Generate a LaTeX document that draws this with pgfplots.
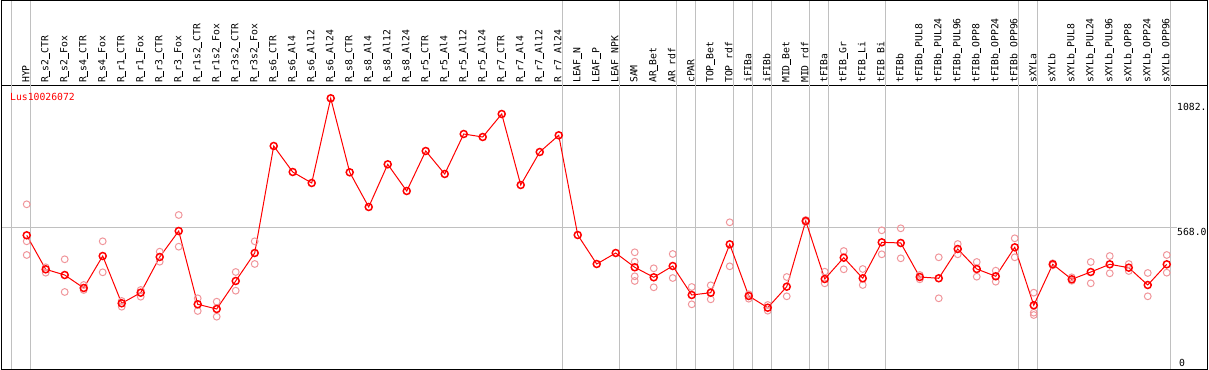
\documentclass[border=0pt]{standalone}
\usepackage{pgfplots}
\pgfplotsset{compat=1.18}
\usepackage{pgfplotstable}
\usepackage{fontspec}
\setmainfont{DejaVu Sans Mono}
\definecolor{rep}{RGB}{240,150,155}
\definecolor{gridg}{RGB}{192,192,192}
\newcommand{\us}{\makebox[0.602em][l]{\rule[-1.6bp]{0.602em}{1.3bp}}}

\pgfplotstableread{
x y
1 539.0
2 404.2
3 381.6
4 330.1
5 456.9
6 269.5
7 311.5
8 453.0
9 556.0
10 265.5
11 246.9
12 357.9
13 468.8
14 892.9
15 789.8
16 746.2
17 1082.0
18 788.6
19 651.1
20 820.3
21 714.5
22 873.0
23 781.9
24 940.4
25 928.5
26 1019.7
27 738.3
28 869.1
29 935.3
30 540.2
31 425.2
32 468.8
33 412.2
34 372.5
35 417.3
36 302.4
37 311.5
38 503.3
39 298.4
40 252.0
41 335.3
42 595.6
43 365.8
44 450.2
45 368.6
46 511.2
47 508.5
48 373.7
49 368.6
50 484.7
51 405.4
52 376.5
53 491.4
54 261.6
55 424.0
56 364.6
57 393.5
58 424.0
59 410.6
60 342.0
61 424.0
}\meandata

\pgfplotstableread{
x y
1 661.8
1 515.2
1 460.9
2 412.2
2 390.8
3 443.9
3 314.3
4 342.0
4 322.2
5 515.2
5 392.3
6 278.6
6 256.0
7 322.2
7 295.6
8 474.0
8 434.3
9 619.4
9 493.8
10 289.3
10 239.0
11 275.8
11 216.4
12 393.5
12 319.4
13 515.2
13 425.3
33 471.6
33 434.3
33 376.5
33 357.9
34 408.2
34 332.9
35 464.9
35 369.7
36 334.1
36 265.5
37 340.8
37 285.3
38 590.5
38 416.1
39 305.2
39 287.7
40 262.7
40 240.2
41 373.7
41 297.2
42 599.6
42 591.7
43 394.7
43 348.7
44 476.7
44 404.2
45 405.4
45 342.0
46 558.8
46 463.7
47 566.7
47 447.8
48 381.6
48 364.6
49 451.8
49 289.3
50 504.5
50 463.7
51 433.2
51 374.9
52 398.7
52 355.1
53 527.1
53 451.8
54 311.5
54 232.2
54 223.1
55 428.0
55 420.0
56 372.5
56 359.0
57 433.2
57 348.7
58 456.9
58 388.4
59 425.2
59 397.5
60 389.6
60 297.2
61 460.9
61 390.8
}\repdata

\begin{document}
\begin{tikzpicture}
\useasboundingbox (0bp,0bp) rectangle (1209bp,370bp);
\begin{axis}[
  at={(1bp,0.7bp)}, anchor=south west,
  scale only axis, width=1206bp, height=284.3bp,
  xmin=-0.353, xmax=63.12, ymin=7.9, ymax=1134.6,
  axis line style={black, line width=0.8bp},
  clip=false,
  xtick={1,...,61},
  xticklabels={HYP,R\us s2\us CTR,R\us s2\us Fox,R\us s4\us CTR,R\us s4\us Fox,R\us r1\us CTR,R\us r1\us Fox,R\us r3\us CTR,R\us r3\us Fox,R\us r1s2\us CTR,R\us r1s2\us Fox,R\us r3s2\us CTR,R\us r3s2\us Fox,R\us s6\us CTR,R\us s6\us Al4,R\us s6\us Al12,R\us s6\us Al24,R\us s8\us CTR,R\us s8\us Al4,R\us s8\us Al12,R\us s8\us Al24,R\us r5\us CTR,R\us r5\us Al4,R\us r5\us Al12,R\us r5\us Al24,R\us r7\us CTR,R\us r7\us Al4,R\us r7\us Al12,R\us r7\us Al24,LEAF\us N,LEAF\us P,LEAF\us NPK,SAM,AR\us Bet,AR\us rdf,cPAR,TOP\us Bet,TOP\us rdf,iFIBa,iFIBb,MID\us Bet,MID\us rdf,tFIBa,tFIB\us Gr,tFIB\us Li,tFIB\us Bi,tFIBb,tFIBb\us PUL8,tFIBb\us PUL24,tFIBb\us PUL96,tFIBb\us OPP8,tFIBb\us OPP24,tFIBb\us OPP96,sXYLa,sXYLb,sXYLb\us PUL8,sXYLb\us PUL24,sXYLb\us PUL96,sXYLb\us OPP8,sXYLb\us OPP24,sXYLb\us OPP96},
  xticklabel pos=upper,
  xticklabel style={rotate=90, anchor=mid west, inner sep=0pt, font=\fontsize{9.8}{10}\selectfont},
  xticklabel shift=2bp,
  major tick length=0pt,
  ytick=\empty,
]
\pgfplotsinvokeforeach{0.19,1.19,29.19,32.19,35.19,36.19,38.19,39.19,40.19,42.19,43.19,46.19,53.19,54.19,61.19}{
  \draw[gridg, line width=1bp] (axis cs:#1,7.9) -- (axis cs:#1,1470);
}
\draw[gridg, line width=1bp] (axis cs:-0.353,568) -- (axis cs:61.54,568);
\addplot[only marks, mark=o, mark size=3.4bp, mark options={rep, line width=1bp}] table {\repdata};
\addplot[red, line width=1bp, mark=o, mark size=3.5bp, mark options={red, line width=1.5bp}] table {\meandata};
\end{axis}
\draw[black, line width=0.8bp] (1bp,0.7bp) rectangle (1207bp,369.7bp);
\node[anchor=west, text=red, inner sep=0pt, font=\fontsize{9.8}{10}\selectfont] at (10bp,273bp) {Lus10026072};
\node[anchor=west, inner sep=0pt, font=\fontsize{9.8}{10}\selectfont] at (1177bp,263bp) {1082.};
\node[anchor=west, inner sep=0pt, font=\fontsize{9.8}{10}\selectfont] at (1177bp,138.3bp) {568.0};
\node[anchor=west, inner sep=0pt, font=\fontsize{9.8}{10}\selectfont] at (1179bp,7.3bp) {0};
\end{tikzpicture}
\end{document}
